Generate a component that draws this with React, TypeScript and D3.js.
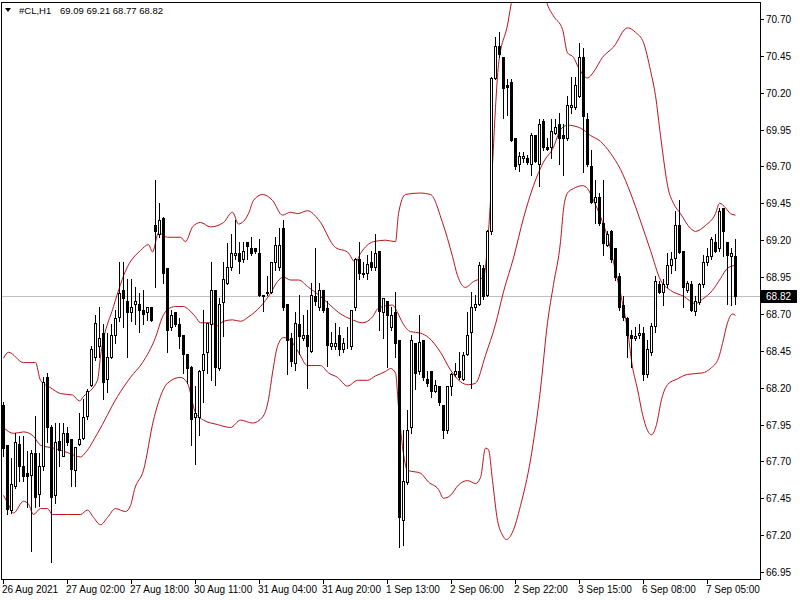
import React, { useEffect, useRef } from "react";
import * as d3 from "d3";

// #CL H1 candles, oldest first (26 Aug 2021 .. 7 Sep 2021)
const symbol = "#CL,H1";
const lastQuote = ["69.09", "69.21", "68.77", "68.82"];
const lastPrice = 68.82;

const opens = [
  68.08, 67.81, 67.37, 67.53, 67.82, 67.67, 67.62, 67.61, 67.76, 67.48,
  67.67, 68.27, 67.93, 67.47, 67.84, 67.74, 67.89, 67.85, 67.64, 67.82,
  67.86, 68.01, 68.22, 68.41, 68.48, 68.57, 68.26, 68.41, 68.56, 68.68,
  68.86, 68.79, 68.71, 68.77, 68.77, 68.73, 68.71, 68.75, 69.30, 69.24,
  69.35, 69.01, 68.61, 68.71, 68.63, 68.56, 68.43, 68.34, 68.00, 68.00,
  68.32, 68.44, 68.63, 68.86, 68.33, 68.78, 68.91, 69.02, 69.10, 69.11,
  69.07, 69.19, 69.15, 69.15, 69.11, 68.83, 68.84, 68.85, 69.05, 69.02,
  69.28, 68.77, 68.54, 68.37, 68.63, 68.54, 68.56, 68.45, 68.82, 68.75,
  68.86, 68.74, 68.48, 68.48, 68.56, 68.46, 68.48, 68.48, 68.75, 69.07,
  68.97, 68.98, 69.05, 69.02, 69.13, 68.71, 68.79, 68.61, 68.71, 68.52,
  67.30, 67.56, 67.93, 68.50, 68.31, 68.52, 68.26, 68.31, 68.18, 68.21,
  68.08, 67.91, 68.21, 68.29, 68.31, 68.26, 68.43, 68.58, 68.75, 68.77,
  69.01, 68.83, 69.26, 70.30, 70.52, 70.44, 70.25, 70.27, 69.89, 69.72,
  69.76, 69.76, 69.72, 69.91, 69.72, 70.01, 69.83, 69.83, 69.93, 69.99,
  69.91, 69.89, 70.10, 70.10, 70.18, 70.44, 70.02, 69.70, 69.46, 69.49,
  69.32, 69.17, 69.26, 69.15, 68.96, 68.76, 68.67, 68.56, 68.54, 68.56,
  68.57, 68.29, 68.44, 68.62, 68.90, 68.85, 68.90, 69.03, 69.08, 69.30,
  69.13, 68.86, 68.90, 68.72, 68.78, 68.90, 69.05, 69.09, 69.19, 69.15,
  69.42, 69.19, 69.09, 69.09,
];

const highs = [
  68.10, 67.81, 67.72, 67.89, 67.87, 67.87, 67.77, 67.78, 68.01, 67.76,
  68.27, 68.30, 67.95, 67.96, 67.96, 67.96, 67.93, 67.85, 67.80, 68.03,
  68.12, 68.19, 68.48, 68.69, 68.75, 68.63, 68.57, 68.63, 68.73, 69.05,
  69.05, 68.94, 68.94, 68.88, 68.84, 68.86, 68.75, 68.75, 69.61, 69.45,
  69.36, 69.01, 68.73, 68.71, 68.67, 68.56, 68.43, 68.35, 68.21, 68.32,
  68.73, 68.64, 69.05, 68.86, 68.81, 69.05, 69.18, 69.24, 69.34, 69.19,
  69.19, 69.19, 69.22, 69.15, 69.21, 68.83, 68.96, 69.05, 69.22, 69.28,
  69.34, 68.77, 68.57, 68.71, 68.83, 68.69, 68.73, 68.91, 69.15, 68.91,
  68.86, 68.79, 68.58, 68.64, 68.61, 68.54, 68.61, 68.73, 69.08, 69.19,
  69.05, 69.10, 69.13, 69.24, 69.13, 68.81, 68.79, 68.75, 68.85, 68.52,
  67.91, 68.05, 68.56, 68.50, 68.69, 68.52, 68.31, 68.31, 68.25, 68.21,
  68.08, 68.21, 68.30, 68.37, 68.44, 68.44, 68.71, 68.85, 68.83, 69.05,
  69.03, 69.27, 70.31, 70.58, 70.61, 70.44, 70.29, 70.29, 69.89, 69.80,
  69.80, 69.78, 69.93, 69.91, 70.02, 70.02, 69.89, 70.02, 70.02, 70.06,
  69.99, 70.18, 70.31, 70.31, 70.54, 70.50, 70.06, 69.81, 69.61, 69.52,
  69.61, 69.26, 69.27, 69.15, 68.98, 68.82, 68.68, 68.59, 68.61, 68.63,
  68.61, 68.52, 68.64, 68.96, 68.92, 68.94, 69.11, 69.12, 69.40, 69.47,
  69.13, 68.92, 68.92, 68.82, 68.91, 69.10, 69.15, 69.22, 69.24, 69.42,
  69.42, 69.19, 69.15, 69.21,
];

const lows = [
  67.74, 67.34, 67.35, 67.52, 67.57, 67.57, 67.39, 67.09, 67.39, 67.40,
  67.64, 67.83, 67.02, 67.42, 67.67, 67.74, 67.81, 67.53, 67.53, 67.81,
  67.85, 67.99, 68.21, 68.39, 68.41, 68.12, 68.17, 68.40, 68.50, 68.65,
  68.61, 68.41, 68.65, 68.63, 68.58, 68.63, 68.66, 68.65, 68.88, 69.22,
  68.91, 68.44, 68.59, 68.62, 68.47, 68.30, 68.23, 67.81, 67.68, 67.88,
  68.10, 68.30, 68.25, 68.22, 68.32, 68.55, 68.90, 69.00, 69.07, 68.98,
  69.05, 69.07, 69.10, 69.11, 68.82, 68.72, 68.83, 68.84, 69.00, 69.00,
  68.73, 68.29, 68.35, 68.32, 68.43, 68.52, 68.20, 68.44, 68.76, 68.73,
  68.71, 68.35, 68.46, 68.46, 68.42, 68.44, 68.47, 68.46, 68.73, 68.94,
  68.95, 68.94, 69.00, 69.00, 68.59, 68.54, 68.34, 68.59, 68.41, 67.12,
  67.13, 67.55, 67.89, 68.19, 68.29, 68.25, 68.21, 68.14, 68.17, 68.08,
  67.86, 67.89, 68.15, 68.28, 68.26, 68.25, 68.42, 68.20, 68.73, 68.76,
  68.80, 68.82, 69.24, 70.29, 70.44, 70.03, 70.05, 69.87, 69.68, 69.67,
  69.73, 69.72, 69.64, 69.73, 69.57, 69.81, 69.81, 69.76, 69.92, 69.72,
  69.64, 69.88, 70.06, 70.09, 70.17, 69.66, 69.70, 69.45, 69.32, 69.30,
  69.10, 69.16, 69.05, 68.93, 68.73, 68.66, 68.41, 68.34, 68.52, 68.54,
  68.25, 68.27, 68.42, 68.58, 68.84, 68.76, 68.88, 68.98, 69.00, 69.11,
  68.75, 68.85, 68.72, 68.69, 68.77, 68.88, 69.03, 69.07, 69.12, 69.13,
  69.09, 68.77, 68.76, 68.77,
];

const closes = [
  67.79, 67.38, 67.55, 67.83, 67.67, 67.60, 67.60, 67.76, 67.46, 67.67,
  68.24, 67.93, 67.46, 67.83, 67.78, 67.89, 67.83, 67.65, 67.80, 67.85,
  68.00, 68.18, 68.46, 68.64, 68.54, 68.24, 68.41, 68.56, 68.67, 68.84,
  68.81, 68.71, 68.75, 68.79, 68.73, 68.70, 68.75, 68.66, 69.26, 69.34,
  68.98, 68.59, 68.69, 68.63, 68.55, 68.43, 68.33, 67.99, 68.03, 68.31,
  68.43, 68.64, 68.86, 68.34, 68.77, 68.94, 69.02, 69.11, 69.11, 69.06,
  69.13, 69.16, 69.11, 69.13, 68.83, 68.82, 68.85, 69.05, 69.17, 69.17,
  68.75, 68.52, 68.38, 68.64, 68.55, 68.56, 68.48, 68.83, 68.79, 68.86,
  68.73, 68.49, 68.50, 68.50, 68.46, 68.50, 68.48, 68.73, 69.07, 68.98,
  68.98, 69.04, 69.02, 69.11, 68.72, 68.81, 68.69, 68.69, 68.50, 67.32,
  67.57, 67.91, 68.52, 68.30, 68.51, 68.27, 68.23, 68.18, 68.22, 68.10,
  67.91, 68.21, 68.29, 68.31, 68.27, 68.42, 68.56, 68.75, 68.77, 69.03,
  68.82, 69.26, 70.30, 70.52, 70.46, 70.23, 70.24, 69.88, 69.70, 69.77,
  69.77, 69.73, 69.91, 69.74, 69.99, 69.83, 69.82, 69.94, 69.97, 69.89,
  69.89, 70.12, 70.12, 70.25, 70.44, 70.04, 69.72, 69.46, 69.49, 69.32,
  69.18, 69.24, 69.07, 68.95, 68.75, 68.68, 68.56, 68.54, 68.55, 68.57,
  68.29, 68.46, 68.62, 68.92, 68.85, 68.90, 69.03, 69.07, 69.30, 69.12,
  68.88, 68.91, 68.73, 68.79, 68.90, 69.05, 69.09, 69.21, 69.13, 69.40,
  69.26, 69.10, 69.11, 68.82,
];

// Bollinger bands: [bar index, price]
const upperBand: [number, number][] = [
  [0, 68.40], [1.25, 68.44], [5, 68.37], [8, 68.37], [9.25, 68.25], [11.75, 68.20],
  [14.25, 68.16], [17.25, 68.15], [19, 68.11], [20, 68.14], [23.5, 68.25], [24.25, 68.41],
  [27.5, 68.75], [31, 69.02], [34.25, 69.13], [36.25, 69.17], [37.25, 69.12], [38.75, 69.25],
  [41, 69.22], [44.25, 69.22], [45.5, 69.19], [47.25, 69.29], [49.25, 69.32], [51.75, 69.29],
  [55, 69.32], [57.25, 69.39], [58.75, 69.31], [61.25, 69.38], [62.5, 69.47], [64.75, 69.51],
  [67.25, 69.47], [69.75, 69.37], [71.75, 69.39], [73.5, 69.38], [76, 69.40], [78.75, 69.34],
  [83, 69.15], [86, 69.12], [88, 69.05], [89.25, 69.11], [92.5, 69.19], [95.5, 69.20],
  [98, 69.19], [98.75, 69.38], [100.5, 69.51], [104.25, 69.52], [106.75, 69.51], [109.75, 69.32],
  [112.25, 69.09], [113.5, 68.96], [115.5, 68.88], [117.5, 68.92], [120, 68.95], [121.25, 69.26],
  [122.25, 69.71], [123, 70.10], [123.75, 70.39], [126, 70.66], [127.25, 70.85], [129.25, 71.05],
  [131.75, 71.15], [134.25, 71.02], [135.75, 70.82], [137.5, 70.72], [139.75, 70.63], [141, 70.47],
  [142.5, 70.44], [143.75, 70.37], [146, 70.30], [147.5, 70.34], [149.75, 70.44], [152.5, 70.51],
  [156, 70.64], [158, 70.61], [160, 70.54], [161.75, 70.35], [163, 70.18], [164.25, 69.91],
  [166.25, 69.54], [167.5, 69.45], [169.25, 69.38], [171.75, 69.28], [173, 69.26], [175.5, 69.30],
  [178, 69.38], [179, 69.45], [180.5, 69.42], [181.75, 69.38], [183, 69.37],
];

const middleBand: [number, number][] = [
  [0, 67.93], [2.5, 67.89], [5, 67.90], [7.5, 67.87], [9.25, 67.81], [12.5, 67.79],
  [16, 67.76], [19.25, 67.73], [20.5, 67.76], [23.5, 67.89], [28.5, 68.14], [31.75, 68.27],
  [34.75, 68.37], [38, 68.54], [39.75, 68.68], [41, 68.73], [43, 68.75], [45, 68.75],
  [46.25, 68.73], [48, 68.68], [49.25, 68.64], [51.75, 68.64], [53.5, 68.62], [55, 68.65],
  [57.25, 68.66], [59.25, 68.65], [61.25, 68.68], [64.25, 68.75], [66.75, 68.84], [68.5, 68.92],
  [70, 68.95], [71.75, 68.93], [73.75, 68.93], [76.25, 68.88], [78.75, 68.83], [81.25, 68.77],
  [83.75, 68.71], [87.25, 68.66], [89.75, 68.64], [92.25, 68.68], [93.75, 68.74], [97.25, 68.76],
  [98.5, 68.71], [99.75, 68.64], [101.75, 68.58], [104.25, 68.57], [106.25, 68.54], [109.25, 68.44],
  [111.75, 68.32], [114.25, 68.24], [116.25, 68.22], [118, 68.23], [120.5, 68.42], [123, 68.63],
  [125, 68.85], [127.5, 69.08], [130, 69.35], [132.5, 69.57], [135, 69.73], [137.5, 69.83],
  [139.25, 69.95], [141, 69.98], [144.25, 69.96], [146.75, 69.91], [149.25, 69.87], [151.75, 69.79],
  [154.25, 69.68], [156.75, 69.52], [159.25, 69.33], [161.75, 69.13], [164.25, 68.93], [166.75, 68.86],
  [170, 68.82], [173, 68.77], [174.75, 68.80], [177.25, 68.86], [179.25, 68.94], [181, 69.01],
  [183, 69.03],
];

const lowerBand: [number, number][] = [
  [0, 67.47], [1, 67.42], [2.5, 67.35], [5, 67.43], [6.25, 67.41], [7.5, 67.34],
  [9.25, 67.38], [11, 67.38], [12.25, 67.34], [16, 67.34], [19.25, 67.34], [21, 67.37],
  [22.5, 67.32], [24.25, 67.27], [26, 67.32], [28, 67.38], [30.5, 67.36], [31.75, 67.40],
  [32.75, 67.51], [35, 67.64], [37.5, 67.98], [41, 68.23], [44.25, 68.27], [46, 68.23],
  [48, 68.03], [50, 67.98], [53.5, 67.95], [56.75, 67.93], [59.25, 67.98], [62.25, 67.96],
  [64.75, 68.00], [66.25, 68.12], [67.25, 68.30], [68.5, 68.48], [70, 68.54], [71.75, 68.52],
  [73.75, 68.44], [76, 68.35], [79.25, 68.35], [81.25, 68.30], [83.5, 68.27], [86, 68.21],
  [88.5, 68.25], [91, 68.25], [93, 68.28], [95.5, 68.31], [96.75, 68.33], [98, 68.30],
  [98.75, 68.07], [99.75, 67.80], [101, 67.64], [104.25, 67.62], [106.25, 67.56], [108.75, 67.51],
  [110, 67.45], [111.75, 67.47], [113.75, 67.54], [116, 67.57], [118, 67.55], [119.25, 67.59],
  [120.5, 67.79], [121.25, 67.78], [122.25, 67.57], [123.5, 67.30], [124.75, 67.20], [125.75, 67.17],
  [127.25, 67.22], [129.25, 67.40], [131.75, 67.71], [134.25, 68.19], [136, 68.64], [137.5, 68.90],
  [139.25, 69.19], [140, 69.41], [141, 69.52], [142.5, 69.55], [144.75, 69.57], [146, 69.55],
  [147.5, 69.47], [149.25, 69.36], [151, 69.22], [152.5, 69.05], [154.25, 68.84], [156, 68.59],
  [157.25, 68.34], [158.5, 68.19], [159.75, 68.02], [161, 67.91], [162, 67.88], [163.25, 67.95],
  [164.5, 68.12], [166, 68.22], [168.5, 68.26], [171, 68.29], [174.75, 68.30], [176.75, 68.33],
  [178.75, 68.40], [179.75, 68.50], [181, 68.64], [182.25, 68.70], [183, 68.69],
];

const priceTicks = [
  70.7, 70.45, 70.2, 69.95, 69.7, 69.45, 69.2, 68.95, 68.7, 68.45, 68.2, 67.95, 67.7, 67.45, 67.2, 66.95,
];

const timeLabels = [
  "26 Aug 2021", "27 Aug 02:00", "27 Aug 18:00", "30 Aug 11:00", "31 Aug 04:00", "31 Aug 20:00",
  "1 Sep 13:00", "2 Sep 06:00", "2 Sep 22:00", "3 Sep 15:00", "6 Sep 08:00", "7 Sep 05:00",
];
const timeLabelBars = [0, 16, 32, 48, 64, 80, 96, 112, 128, 144, 160, 176];

export default function App() {
  const svgRef = useRef<SVGSVGElement | null>(null);

  useEffect(() => {
    if (!svgRef.current) return;
    const width = 800;
    const height = 600;
    const frame = { left: 1, top: 2, right: 760, bottom: 579 };
    const font = "'Liberation Sans', Arial, sans-serif";
    const bandColor = "#b8141c";

    const svg = d3.select(svgRef.current);
    svg.selectAll("*").remove();
    svg.attr("width", width).attr("height", height);

    const x = d3.scaleLinear().domain([0, opens.length - 1]).range([3, 3 + 4 * (opens.length - 1)]);
    const y = d3.scaleLinear().domain([66.95, 70.7]).range([572, 19]);
    const py = (v: number) => Math.round(y(v));

    svg.append("rect").attr("width", width).attr("height", height).attr("fill", "#fff");

    svg
      .append("clipPath")
      .attr("id", "plot-clip")
      .append("rect")
      .attr("x", frame.left + 1)
      .attr("y", frame.top + 1)
      .attr("width", frame.right - frame.left - 1)
      .attr("height", frame.bottom - frame.top - 1);

    // current price line
    const lp = py(lastPrice) + 0.5;
    svg
      .append("line")
      .attr("x1", frame.left + 1)
      .attr("x2", frame.right)
      .attr("y1", lp)
      .attr("y2", lp)
      .attr("stroke", "#c0c0c0")
      .attr("stroke-width", 1)
      .attr("shape-rendering", "crispEdges");

    // bollinger bands
    const line = d3
      .line<[number, number]>()
      .x((d) => x(d[0]) + 0.5)
      .y((d) => y(d[1]))
      .curve(d3.curveMonotoneX);

    const bands = svg.append("g").attr("clip-path", "url(#plot-clip)");
    [upperBand, middleBand, lowerBand].forEach((band) => {
      bands
        .append("path")
        .datum(band)
        .attr("fill", "none")
        .attr("stroke", bandColor)
        .attr("stroke-width", 1)
        .attr("d", line as any);
    });

    // candles
    const candles = svg.append("g").attr("shape-rendering", "crispEdges");
    opens.forEach((o, i) => {
      const c = closes[i];
      const cx = Math.round(x(i));
      const bull = c >= o;
      const top = py(Math.max(o, c));
      const bot = py(Math.min(o, c));
      candles
        .append("line")
        .attr("x1", cx + 0.5)
        .attr("x2", cx + 0.5)
        .attr("y1", py(highs[i]))
        .attr("y2", py(lows[i]) + 1)
        .attr("stroke", "#000");
      candles
        .append("rect")
        .attr("x", cx - 0.5)
        .attr("y", top + 0.5)
        .attr("width", 2)
        .attr("height", Math.max(0, bot - top))
        .attr("fill", bull ? "#fff" : "#000")
        .attr("stroke", "#000");
    });

    // frame
    svg
      .append("rect")
      .attr("x", frame.left + 0.5)
      .attr("y", frame.top + 0.5)
      .attr("width", frame.right - frame.left)
      .attr("height", frame.bottom - frame.top)
      .attr("fill", "none")
      .attr("stroke", "#000")
      .attr("shape-rendering", "crispEdges");

    // price axis
    const yAxis = svg.append("g").attr("font-family", font).attr("font-size", 10);
    priceTicks.forEach((t) => {
      const ty = py(t) + 0.5;
      yAxis
        .append("line")
        .attr("x1", frame.right + 1)
        .attr("x2", frame.right + 4)
        .attr("y1", ty)
        .attr("y2", ty)
        .attr("stroke", "#000")
        .attr("shape-rendering", "crispEdges");
      yAxis
        .append("text")
        .attr("x", frame.right + 6)
        .attr("y", ty + 3.5)
        .attr("fill", "#000")
        .text(d3.format(".2f")(t));
    });

    // last price marker
    yAxis
      .append("rect")
      .attr("x", frame.right + 1)
      .attr("y", lp - 6.5)
      .attr("width", 36)
      .attr("height", 13)
      .attr("fill", "#000");
    yAxis
      .append("text")
      .attr("x", frame.right + 6)
      .attr("y", lp + 3.5)
      .attr("fill", "#fff")
      .text(d3.format(".2f")(lastPrice));

    // time axis
    const xAxis = svg.append("g").attr("font-family", font).attr("font-size", 10);
    timeLabelBars.forEach((b, k) => {
      const tx = Math.round(x(b)) + 0.5;
      xAxis
        .append("line")
        .attr("x1", tx)
        .attr("x2", tx)
        .attr("y1", frame.bottom + 1)
        .attr("y2", frame.bottom + 5)
        .attr("stroke", "#000")
        .attr("shape-rendering", "crispEdges");
      xAxis
        .append("text")
        .attr("x", tx - 1.5)
        .attr("y", frame.bottom + 14)
        .attr("fill", "#000")
        .text(timeLabels[k]);
    });

    // header
    const head = svg.append("g").attr("font-family", font).attr("font-size", 9.5).attr("fill", "#000");
    head.append("path").attr("d", "M5,8 L11,8 L8,12 Z").attr("fill", "#000");
    head.append("text").attr("x", 19).attr("y", 14).text(symbol);
    head.append("text").attr("x", 60).attr("y", 14).text(lastQuote.join(" "));
  }, []);

  return <svg ref={svgRef} style={{ position: "absolute", left: 0, top: 0, display: "block" }} />;
}
